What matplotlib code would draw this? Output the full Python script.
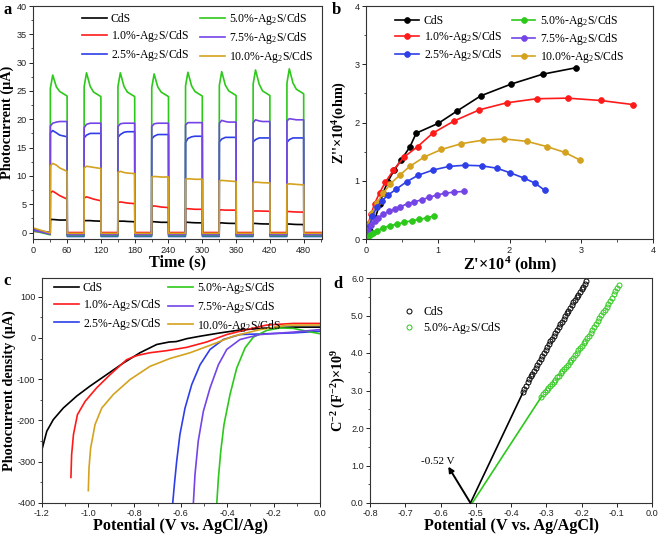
import numpy as np
import matplotlib
matplotlib.use('Agg')
import matplotlib.pyplot as plt
from matplotlib.ticker import MultipleLocator, FormatStrFormatter

plt.rcParams['font.family'] = ['Liberation Serif', 'DejaVu Serif']
plt.rcParams['mathtext.fontset'] = 'custom'
plt.rcParams['mathtext.rm'] = 'Liberation Serif'
plt.rcParams['mathtext.bf'] = 'Liberation Serif:bold'
plt.rcParams['mathtext.it'] = 'Liberation Serif:italic'
plt.rcParams['axes.unicode_minus'] = False

# ---------------- shared ----------------
labels = ['CdS', '1.0%-Ag$_2$S/CdS', '2.5%-Ag$_2$S/CdS',
          '5.0%-Ag$_2$S/CdS', '7.5%-Ag$_2$S/CdS', '10.0%-Ag$_2$S/CdS']
colors = ['#000000', '#FF1A1A', '#2E3FE8', '#2CC81A', '#7444E6', '#D4A21E']

# ---------------- panel a: transient photocurrent ----------------
a_t_on = [30, 90, 150, 210, 270, 330, 390, 450]
a_light_len = 30
a_t_end = 512
a_offsets = [0.3, 4.5, 11, 17, 30]          # sample times within each light-on period
a_first_off = [[0.6, -0.3], [0.2, 0.0], [0.5, 0.0], [0.3, -0.4], [0.4, -0.3], [0.8, -0.1]]
a_off_level = [-0.3, 0.0, -0.7, -0.55, -0.4, -0.15]
a_cds = [[2.3, 2.3, 2.25, 2.2, 2.2], [2.1, 2.1, 2.1, 2.05, 2.0], [2.0, 2.0, 2.0, 1.95, 1.9],
         [1.9, 1.9, 1.85, 1.8, 1.8], [1.8, 1.8, 1.75, 1.72, 1.7], [1.7, 1.7, 1.65, 1.62, 1.6],
         [1.6, 1.6, 1.55, 1.52, 1.5], [1.5, 1.5, 1.45, 1.42, 1.4]]
a_ag10 = [[7.0, 7.3, 6.9, 6.5, 5.9], [6.1, 6.3, 6.1, 5.9, 5.6], [5.3, 5.4, 5.3, 5.2, 5.1],
          [4.6, 4.7, 4.6, 4.5, 4.4], [4.2, 4.2, 4.15, 4.1, 4.1], [4.0, 4.0, 3.95, 3.95, 3.95],
          [3.8, 3.8, 3.8, 3.78, 3.75], [3.7, 3.7, 3.65, 3.62, 3.6]]
a_ag25 = [[17.6, 18.0, 17.6, 17.2, 16.9], [16.7, 17.2, 17.5, 17.5, 17.5], [16.8, 17.3, 17.7, 17.8, 17.8],
          [16.5, 17.0, 17.3, 17.3, 17.3], [15.9, 16.6, 16.9, 17.0, 17.0], [16.0, 16.5, 16.8, 16.8, 16.8],
          [16.0, 16.4, 16.7, 16.7, 16.7], [15.9, 16.4, 16.7, 16.7, 16.7]]
a_ag50 = [[25.5, 27.8, 25.7, 24.9, 24.1], [25.8, 28.2, 25.8, 24.8, 24.0], [25.8, 28.2, 25.8, 24.8, 24.0],
          [25.6, 28.0, 25.7, 24.8, 24.0], [25.9, 28.3, 25.9, 24.9, 24.1], [26.0, 28.4, 26.0, 25.0, 24.2],
          [26.2, 28.7, 26.2, 25.0, 24.2], [26.4, 28.9, 26.4, 25.3, 24.5]]
a_ag75 = [[18.8, 19.3, 19.5, 19.6, 19.6], [18.5, 19.1, 19.3, 19.3, 19.3], [18.7, 19.2, 19.3, 19.3, 19.3],
          [18.7, 19.2, 19.3, 19.3, 19.3], [19.0, 19.4, 19.4, 19.4, 19.4], [19.3, 19.8, 19.6, 19.5, 19.5],
          [19.4, 19.9, 19.7, 19.6, 19.6], [19.7, 20.1, 20.0, 19.9, 19.9]]
a_ag100 = [[11.8, 12.2, 11.9, 11.4, 10.8], [11.4, 11.7, 11.6, 11.5, 11.3], [10.6, 10.8, 10.6, 10.5, 10.4],
           [9.8, 9.9, 9.85, 9.8, 9.8], [9.4, 9.5, 9.45, 9.4, 9.4], [9.1, 9.2, 9.15, 9.1, 9.0],
           [8.8, 8.9, 8.85, 8.8, 8.75], [8.5, 8.6, 8.55, 8.5, 8.4]]
a_series = [a_cds, a_ag10, a_ag25, a_ag50, a_ag75, a_ag100]

# ---------------- panel b: Nyquist ----------------
b_x_cds = [0.01, 0.06, 0.13, 0.19, 0.24, 0.30, 0.39, 0.49, 0.61, 0.70, 1.01, 1.27, 1.60, 2.02, 2.46, 2.92]
b_y_cds = [0.02, 0.14, 0.37, 0.60, 0.80, 0.98, 1.18, 1.36, 1.58, 1.82, 1.99, 2.20, 2.46, 2.66, 2.83, 2.94]
b_x_ag10 = [0.01, 0.03, 0.07, 0.12, 0.19, 0.27, 0.38, 0.53, 0.72, 0.93, 1.23, 1.58, 1.96, 2.38, 2.81, 3.27, 3.72]
b_y_ag10 = [0.09, 0.26, 0.43, 0.61, 0.80, 0.98, 1.18, 1.41, 1.59, 1.82, 2.03, 2.22, 2.34, 2.41, 2.42, 2.38, 2.31]
b_x_ag25 = [0.01, 0.05, 0.09, 0.15, 0.22, 0.31, 0.42, 0.57, 0.73, 0.94, 1.16, 1.38, 1.61, 1.82, 2.01, 2.20, 2.36, 2.49]
b_y_ag25 = [0.06, 0.23, 0.40, 0.55, 0.66, 0.76, 0.86, 0.99, 1.10, 1.19, 1.25, 1.27, 1.26, 1.22, 1.14, 1.05, 0.96, 0.84]
b_x_ag50 = [0.02, 0.06, 0.10, 0.16, 0.24, 0.33, 0.43, 0.53, 0.64, 0.74, 0.85, 0.95]
b_y_ag50 = [0.02, 0.07, 0.11, 0.15, 0.20, 0.23, 0.26, 0.29, 0.32, 0.34, 0.37, 0.40]
b_x_ag75 = [0.01, 0.03, 0.07, 0.12, 0.17, 0.24, 0.32, 0.40, 0.48, 0.58, 0.67, 0.78, 0.88, 0.99, 1.10, 1.23, 1.36]
b_y_ag75 = [0.06, 0.15, 0.25, 0.32, 0.37, 0.43, 0.48, 0.52, 0.56, 0.61, 0.64, 0.68, 0.72, 0.76, 0.79, 0.81, 0.82]
b_x_ag100 = [0.01, 0.05, 0.09, 0.15, 0.24, 0.34, 0.47, 0.61, 0.81, 1.05, 1.33, 1.63, 1.93, 2.24, 2.52, 2.77, 2.98]
b_y_ag100 = [0.10, 0.28, 0.45, 0.62, 0.79, 0.95, 1.10, 1.25, 1.41, 1.54, 1.64, 1.70, 1.72, 1.68, 1.59, 1.49, 1.36]
b_xs = [b_x_cds, b_x_ag10, b_x_ag25, b_x_ag50, b_x_ag75, b_x_ag100]
b_ys = [b_y_cds, b_y_ag10, b_y_ag25, b_y_ag50, b_y_ag75, b_y_ag100]
b_draw_order = [0, 1, 5, 2, 4, 3]

# ---------------- panel c: LSV ----------------
c_x_cds = [-1.2, -1.178, -1.150, -1.107, -1.049, -0.992, -0.920, -0.848, -0.776, -0.704, -0.650,
           -0.620, -0.600, -0.575, -0.517, -0.431, -0.345, -0.230, -0.115, 0.0]
c_y_cds = [-273, -226, -198, -170, -141, -117, -89, -61, -36, -16, -10, -9, -6, -2, 4, 12, 19, 24, 26, 26]
c_x_ag10 = [-1.074, -1.071, -1.063, -1.046, -1.013, -0.963, -0.905, -0.834, -0.800, -0.783, -0.733,
            -0.661, -0.575, -0.489, -0.402, -0.316, -0.230, -0.115, 0.0]
c_y_ag10 = [-338, -283, -234, -186, -154, -121, -89, -53, -45, -42, -36, -31, -23, -10, 8, 20, 31, 35, 35]
c_x_ag25 = [-0.635, -0.628, -0.618, -0.604, -0.582, -0.553, -0.517, -0.474, -0.417, -0.345, -0.230, -0.115, 0.0]
c_y_ag25 = [-400, -356, -299, -234, -170, -113, -65, -28, -4, 8, 10, 12, 16]
c_x_ag50 = [-0.445, -0.438, -0.428, -0.414, -0.388, -0.359, -0.323, -0.287, -0.230, -0.172, -0.115, -0.057, 0.0]
c_y_ag50 = [-400, -339, -275, -210, -137, -73, -24, 2, 18, 24, 23, 16, 10]
c_x_ag75 = [-0.546, -0.539, -0.525, -0.503, -0.474, -0.438, -0.402, -0.345, -0.259, -0.115, 0.0]
c_y_ag75 = [-400, -331, -250, -178, -121, -65, -28, -4, 8, 14, 20]
c_x_ag100 = [-0.999, -0.996, -0.989, -0.970, -0.941, -0.891, -0.819, -0.733, -0.647, -0.560, -0.474,
             -0.374, -0.259, -0.144, 0.0]
c_y_ag100 = [-370, -315, -267, -210, -170, -137, -101, -69, -50, -36, -18, 4, 20, 31, 31]
c_xs = [c_x_cds, c_x_ag10, c_x_ag25, c_x_ag50, c_x_ag75, c_x_ag100]
c_ys = [c_y_cds, c_y_ag10, c_y_ag25, c_y_ag50, c_y_ag75, c_y_ag100]

# ---------------- panel d: Mott-Schottky ----------------
d_labels = ['CdS', '5.0%-Ag$_2$S/CdS']
d_colors = ['#000000', '#2CC81A']
d_x_cds = [-0.367, -0.362, -0.358, -0.353, -0.349, -0.344, -0.340, -0.335, -0.330, -0.326,
           -0.321, -0.316, -0.312, -0.307, -0.302, -0.298, -0.293, -0.288, -0.284, -0.279,
           -0.274, -0.270, -0.265, -0.260, -0.256, -0.251, -0.246, -0.242, -0.237, -0.232,
           -0.228, -0.223, -0.218, -0.214, -0.209, -0.204, -0.200, -0.195, -0.190, -0.186]
d_y_cds = [2.95, 3.05, 3.13, 3.22, 3.30, 3.38, 3.45, 3.53, 3.61, 3.68,
           3.76, 3.84, 3.92, 4.00, 4.08, 4.15, 4.23, 4.31, 4.38, 4.46,
           4.54, 4.61, 4.69, 4.77, 4.84, 4.92, 4.99, 5.06, 5.13, 5.20,
           5.27, 5.35, 5.42, 5.49, 5.56, 5.63, 5.70, 5.77, 5.84, 5.91]
d_x_ag50 = [-0.314, -0.309, -0.304, -0.299, -0.294, -0.289, -0.284, -0.279, -0.274, -0.269,
            -0.264, -0.259, -0.254, -0.249, -0.244, -0.239, -0.234, -0.229, -0.224, -0.219,
            -0.214, -0.209, -0.204, -0.199, -0.194, -0.189, -0.184, -0.179, -0.174, -0.169,
            -0.164, -0.159, -0.154, -0.149, -0.144, -0.139, -0.134, -0.129, -0.124, -0.119,
            -0.114, -0.109, -0.104, -0.099, -0.094]
d_y_ag50 = [2.83, 2.90, 2.96, 3.02, 3.07, 3.12, 3.18, 3.24, 3.29, 3.35,
            3.40, 3.46, 3.51, 3.57, 3.62, 3.69, 3.75, 3.82, 3.88, 3.95,
            4.01, 4.08, 4.14, 4.20, 4.26, 4.33, 4.39, 4.46, 4.53, 4.61,
            4.69, 4.77, 4.85, 4.93, 5.01, 5.09, 5.16, 5.24, 5.32, 5.40,
            5.48, 5.57, 5.65, 5.74, 5.82]
d_fit_x_cds = [-0.515, -0.367]
d_fit_y_cds = [0.0, 2.93]
d_fit_x_ag50 = [-0.510, -0.314]
d_fit_y_ag50 = [0.0, 2.83]
d_intercept = -0.515
d_arrow_tip = (-0.578, 0.97)

# ---------------- figure ----------------
W, H = 661, 538
fig = plt.figure(figsize=(W / 100, H / 100), dpi=100)

def px_axes(l, t, r, b):
    return fig.add_axes([l / W, 1 - b / H, (r - l) / W, (b - t) / H])

axA = px_axes(33.3, 6, 321.7, 239.3)
axB = px_axes(366, 6, 653, 239.3)
axC = px_axes(41.7, 278, 320, 503)
axD = px_axes(370, 278, 652, 503)

tick_fs = 6.6
xlab_fs = 11.7
ylab_fs = 10.3
leg_fs = 8.5

def style(ax):
    for s in ax.spines.values():
        s.set_linewidth(0.8)
        s.set_color('#333333')
    ax.tick_params(which='major', direction='out', length=3, width=0.7,
                   labelsize=tick_fs, labelfontfamily='Liberation Sans', pad=1.5,
                   colors='#222222')
    ax.tick_params(which='minor', direction='out', length=1.8, width=0.6, colors='#333333')

# ---- a ----
for i, cyc in enumerate(a_series):
    ts = [0, a_t_on[0]]
    ys = [a_first_off[i][0], a_first_off[i][1]]
    for k, ton in enumerate(a_t_on):
        ts.append(ton)
        ys.append(ys[-1])
        for off, v in zip(a_offsets, cyc[k]):
            ts.append(ton + off)
            ys.append(v)
        ts.append(ton + a_light_len + 0.3)
        ys.append(a_off_level[i])
    ts.append(a_t_end)
    ys.append(a_off_level[i])
    axA.plot(ts, ys, color=colors[i], lw=1.2, label=labels[i])
axA.set_xlim(0, 512)
axA.set_ylim(-1.2, 40)
axA.xaxis.set_major_locator(MultipleLocator(60))
axA.xaxis.set_minor_locator(MultipleLocator(30))
axA.yaxis.set_major_locator(MultipleLocator(5))
axA.yaxis.set_minor_locator(MultipleLocator(2.5))
style(axA)
axA.set_xlabel('Time (s)', fontsize=xlab_fs, fontweight='bold', labelpad=0)
axA.set_ylabel('Photocurrent (μA)', fontsize=ylab_fs, fontweight='bold', labelpad=2)
axA.legend(ncol=2, loc='upper left', bbox_to_anchor=(0.16, 0.99), frameon=False,
           fontsize=leg_fs, handlelength=2.1, handletextpad=0.35, columnspacing=0.9,
           labelspacing=0.28, borderaxespad=0, borderpad=0.2)

# ---- b ----
for i in b_draw_order:
    axB.plot(b_xs[i], b_ys[i], color=colors[i], lw=1.2, marker='o', markersize=4.2,
             markeredgecolor=colors[i], markerfacecolor=colors[i], markeredgewidth=0.5,
             label=labels[i])
hB, lB = axB.get_legend_handles_labels()
order = [b_draw_order.index(i) for i in range(6)]
axB.set_xlim(0, 4)
axB.set_ylim(0, 4)
axB.xaxis.set_major_locator(MultipleLocator(1))
axB.xaxis.set_minor_locator(MultipleLocator(0.5))
axB.yaxis.set_major_locator(MultipleLocator(1))
axB.yaxis.set_minor_locator(MultipleLocator(0.5))
style(axB)
axB.set_xlabel("Z'×10$^{\\mathbf{4}}$ (ohm)", fontsize=xlab_fs, fontweight='bold', labelpad=0)
axB.set_ylabel("Z''×10$^{\\mathbf{4}}$(ohm)", fontsize=ylab_fs, fontweight='bold', labelpad=4)
axB.legend([hB[j] for j in order], [lB[j] for j in order], ncol=2, loc='upper left',
           bbox_to_anchor=(0.09, 0.985), frameon=False, fontsize=leg_fs, handlelength=2.0,
           handletextpad=0.4, columnspacing=0.8, labelspacing=0.18, borderaxespad=0,
           borderpad=0.3)

# ---- c ----
for i in range(6):
    axC.plot(c_xs[i], c_ys[i], color=colors[i], lw=1.2, label=labels[i])
axC.set_xlim(-1.2, 0.0)
axC.set_ylim(-400, 145)
axC.xaxis.set_major_locator(MultipleLocator(0.2))
axC.xaxis.set_minor_locator(MultipleLocator(0.1))
axC.xaxis.set_major_formatter(FormatStrFormatter('%.1f'))
axC.yaxis.set_major_locator(MultipleLocator(100))
axC.yaxis.set_minor_locator(MultipleLocator(50))
style(axC)
axC.set_xlabel('Potential (V vs. AgCl/Ag)', fontsize=xlab_fs, fontweight='bold', labelpad=0)
axC.set_ylabel('Photocurrent density (μA)', fontsize=ylab_fs, fontweight='bold', labelpad=1)
axC.legend(ncol=2, loc='upper left', bbox_to_anchor=(0.035, 1.0), frameon=False,
           fontsize=leg_fs, handlelength=2.1, handletextpad=0.35, columnspacing=0.6,
           labelspacing=0.22, borderaxespad=0, borderpad=0.2)

# ---- d ----
axD.plot(d_fit_x_cds, d_fit_y_cds, color=d_colors[0], lw=1.2)
axD.plot(d_fit_x_ag50, d_fit_y_ag50, color=d_colors[1], lw=1.2)
axD.plot(d_x_cds, d_y_cds, linestyle='none', marker='o', markersize=3.6, markerfacecolor='none',
         markeredgecolor=d_colors[0], markeredgewidth=0.7, label=d_labels[0])
axD.plot(d_x_ag50, d_y_ag50, linestyle='none', marker='o', markersize=3.6, markerfacecolor='none',
         markeredgecolor=d_colors[1], markeredgewidth=0.7, label=d_labels[1])
axD.annotate('', xy=d_arrow_tip, xytext=(d_intercept, 0.0),
             arrowprops=dict(arrowstyle='-|>', color='black', lw=1.4,
                             mutation_scale=8, shrinkA=0, shrinkB=0))
axD.text(-0.609, 1.12, '-0.52 V', fontsize=8, ha='center', va='center')
axD.set_xlim(-0.8, 0.0)
axD.set_ylim(0, 6.0)
axD.xaxis.set_major_locator(MultipleLocator(0.1))
axD.xaxis.set_major_formatter(FormatStrFormatter('%.1f'))
axD.yaxis.set_major_locator(MultipleLocator(1.0))
axD.yaxis.set_minor_locator(MultipleLocator(0.5))
axD.yaxis.set_major_formatter(FormatStrFormatter('%.1f'))
style(axD)
axD.set_xlabel('Potential (V vs. Ag/AgCl)', fontsize=xlab_fs, fontweight='bold', labelpad=0)
axD.set_ylabel('C$^{\\mathbf{-2}}$ (F$^{\\mathbf{-2}}$)×10$^{\\mathbf{9}}$', fontsize=ylab_fs,
               fontweight='bold', labelpad=2)
axD.legend(loc='upper left', bbox_to_anchor=(0.105, 0.885), frameon=False, fontsize=leg_fs,
           handlelength=1.2, handletextpad=0.6, labelspacing=0.15, borderaxespad=0,
           borderpad=0.2)

# panel letters
for x, y, s in [(3, 2, 'a'), (332, 2, 'b'), (3, 273, 'c'), (333, 276, 'd')]:
    fig.text(x / W, 1 - y / H, s, fontsize=12, fontweight='bold', ha='left', va='top')

fig.savefig('out.png', dpi=100)
